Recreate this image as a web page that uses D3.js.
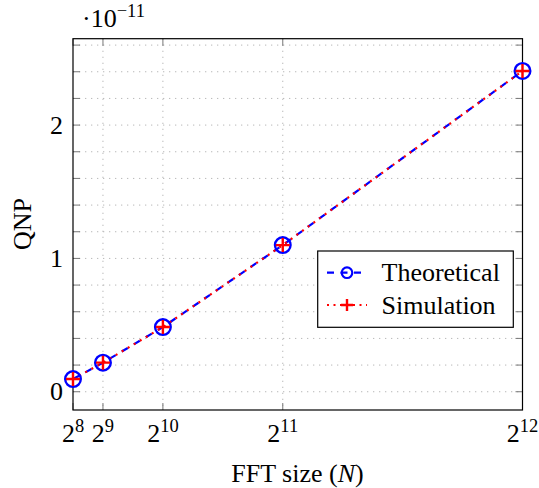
<!DOCTYPE html>
<html><head><meta charset="utf-8">
<script src="https://cdn.jsdelivr.net/npm/d3@7"></script>
<style>body{margin:0;background:#fff}svg{display:block}text{font-family:"Liberation Serif","Times New Roman",serif;fill:#000}</style>
</head><body><svg id="c" width="539" height="488"></svg>
<script>
const fftSizes = [256, 512, 1024, 2048, 4096];
const xTickExps = [8, 9, 10, 11, 12];
const theoretical = [0.095, 0.218, 0.485, 1.10, 2.406];
const simulation = [0.095, 0.218, 0.485, 1.10, 2.406];
const yTickLabels = [0, 1, 2];
const yMinorTicks = [0, 0.2, 0.4, 0.6, 0.8, 1, 1.2, 1.4, 1.6, 1.8, 2, 2.2, 2.4, 2.6];
const seriesNames = ["Theoretical", "Simulation"];

const svg = d3.select("#c");
const L = 73, R = 522.5, T = 38.7, B = 410;
const x = d3.scaleLinear().domain([256, 4096]).range([L, R]);
const y = d3.scaleLinear().domain([-0.137, 2.648]).range([B, T]);

// grid
const g = svg.append("g");
g.selectAll(".gy").data(yMinorTicks).enter().append("line")
  .attr("x1", L).attr("x2", R).attr("y1", d => y(d)).attr("y2", d => y(d))
  .attr("stroke", "#b8b8b8").attr("stroke-width", 1).attr("stroke-dasharray", "1.3,4.7");
g.selectAll(".gx").data(fftSizes.slice(1, -1)).enter().append("line")
  .attr("y1", T).attr("y2", B).attr("x1", d => x(d)).attr("x2", d => x(d))
  .attr("stroke", "#b8b8b8").attr("stroke-width", 1).attr("stroke-dasharray", "1.3,4.7");

// ticks (inside, both sides)
const tk = 7;
const tg = svg.append("g").attr("stroke", "#777").attr("stroke-width", 1);
yMinorTicks.forEach(v => {
  tg.append("line").attr("x1", L).attr("x2", L + tk).attr("y1", y(v)).attr("y2", y(v));
  tg.append("line").attr("x1", R).attr("x2", R - tk).attr("y1", y(v)).attr("y2", y(v));
});
fftSizes.forEach(v => {
  tg.append("line").attr("y1", B).attr("y2", B - tk).attr("x1", x(v)).attr("x2", x(v));
  tg.append("line").attr("y1", T).attr("y2", T + tk).attr("x1", x(v)).attr("x2", x(v));
});

// frame
svg.append("rect").attr("x", L).attr("y", T).attr("width", R - L).attr("height", B - T)
  .attr("fill", "none").attr("stroke", "#000").attr("stroke-width", 1.2);

// y labels
svg.selectAll(".yl").data(yTickLabels).enter().append("text")
  .attr("x", 63).attr("y", d => y(d) + 8.5).attr("text-anchor", "end")
  .attr("font-size", 26).text(d => d);

// x labels
fftSizes.forEach((v, i) => {
  const t = svg.append("text").attr("x", x(v)).attr("y", 442).attr("text-anchor", "middle").attr("font-size", 26);
  t.append("tspan").text("2");
  t.append("tspan").attr("dy", -10).attr("font-size", 18.5).text(xTickExps[i]);
});

// multiplier
const m = svg.append("text").attr("x", 82).attr("y", 27).attr("font-size", 26);
m.append("tspan").text("·10");
m.append("tspan").attr("dy", -10).attr("font-size", 18.5).text("−11");

// axis titles
const xt = svg.append("text").attr("x", 297.5).attr("y", 482).attr("text-anchor", "middle").attr("font-size", 26);
xt.append("tspan").text("FFT size (");
xt.append("tspan").attr("font-style", "italic").text("N");
xt.append("tspan").text(")");
svg.append("text").attr("transform", "translate(31,224) rotate(-90)").attr("text-anchor", "middle")
  .attr("font-size", 26).text("QNP");

// series
const line = d3.line().x((d, i) => x(fftSizes[i])).y(d => y(d));
svg.append("path").datum(theoretical).attr("d", line).attr("fill", "none")
  .attr("stroke", "#0000ff").attr("stroke-width", 2.2).attr("stroke-dasharray", "7,7");
svg.append("path").datum(simulation).attr("d", line).attr("fill", "none")
  .attr("stroke", "#ff0000").attr("stroke-width", 2.2).attr("stroke-dasharray", "2,5");

svg.selectAll(".mc").data(theoretical).enter().append("circle")
  .attr("cx", (d, i) => x(fftSizes[i])).attr("cy", d => y(d)).attr("r", 7.8)
  .attr("fill", "none").attr("stroke", "#0000ff").attr("stroke-width", 2.4);
const ps = 7;
simulation.forEach((d, i) => {
  const cx = x(fftSizes[i]), cy = y(d);
  svg.append("path").attr("d", `M${cx - ps},${cy}H${cx + ps}M${cx},${cy - ps}V${cy + ps}`)
    .attr("stroke", "#ff0000").attr("stroke-width", 2.4).attr("fill", "none");
});

// legend
const lg = svg.append("g");
lg.append("rect").attr("x", 317.7).attr("y", 251).attr("width", 195.6).attr("height", 76.3)
  .attr("fill", "#fff").attr("stroke", "#000").attr("stroke-width", 1.2);
const rows = [272.7, 305];
lg.append("line").attr("x1", 327).attr("x2", 367).attr("y1", rows[0]).attr("y2", rows[0])
  .attr("stroke", "#0000ff").attr("stroke-width", 2.2).attr("stroke-dasharray", "7,6.5");
lg.append("circle").attr("cx", 347).attr("cy", rows[0]).attr("r", 5.3)
  .attr("fill", "none").attr("stroke", "#0000ff").attr("stroke-width", 2.2);
lg.append("line").attr("x1", 327).attr("x2", 367).attr("y1", rows[1]).attr("y2", rows[1])
  .attr("stroke", "#ff0000").attr("stroke-width", 2.2).attr("stroke-dasharray", "2,4.5");
lg.append("path").attr("d", `M${341},${rows[1]}H${353}M${347},${rows[1] - 6}V${rows[1] + 6}`)
  .attr("stroke", "#ff0000").attr("stroke-width", 2.4);
seriesNames.forEach((s, i) => {
  lg.append("text").attr("x", 381.5).attr("y", rows[i] + 8.5).attr("font-size", 26).text(s);
});
</script></body></html>
